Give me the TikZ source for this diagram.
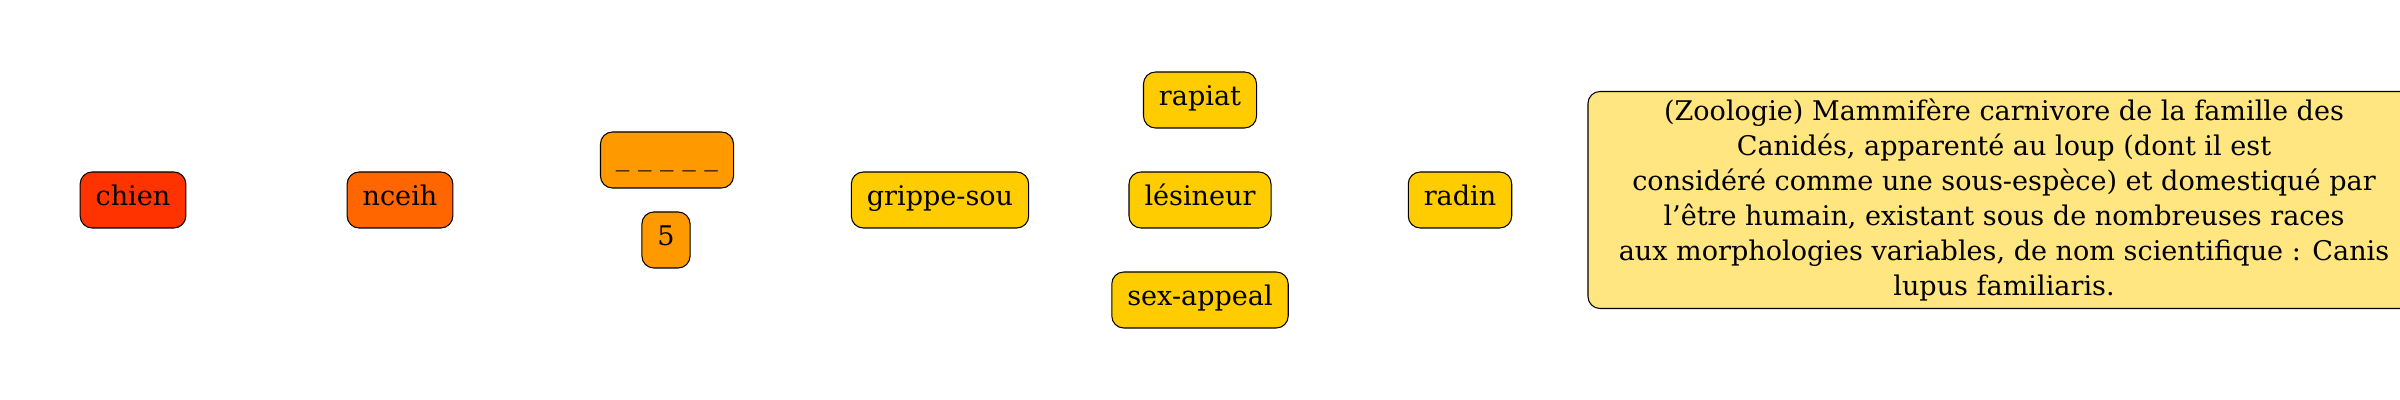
\documentclass[tikz,border=0pt]{standalone}
\usepackage{fontspec}
\setmainfont{DejaVu Serif}
\definecolor{wordred}{HTML}{FF3300}
\definecolor{revorange}{HTML}{FF6600}
\definecolor{lenorange}{HTML}{FF9900}
\definecolor{synyellow}{HTML}{FFCC00}
\definecolor{defyellow}{HTML}{FFE680}
\tikzset{
    box/.style={draw=black, line width=0.6pt, rounded corners=0.24cm, inner xsep=0.31cm, font=\fontsize{15.4}{19.9}\selectfont},
    word/.style={box, minimum height=1.12cm, text height=0.75em, text depth=0.15em}
}
\begin{document}
\begin{tikzpicture}
    \useasboundingbox (0,-4) rectangle (48,4);
    % Word
    \node[word, fill=wordred] (Word-1) at (2.66,0) {chien};
    % Reversed word
    \node[word, fill=revorange] (Reverse-1) at (8,0) {nceih};
    % Blanks and length
    \node[word, fill=lenorange] (Blank-1) at (13.34,0.8) {\_ \_ \_ \_ \_};
    \node[word, fill=lenorange] (Length-1) at (13.32,-0.8) {5};
    % Synonyms
    \foreach \name/\i/\x/\y in {grippe-sou/1/18.8/0, rapiat/2/24/2, lésineur/3/24/0, sex-appeal/4/24/-2, radin/5/29.2/0} {
        \node[word, fill=synyellow] (Synonym-\i) at (\x,\y) {\name};
    }
    % Definition
    \node[box, fill=defyellow, align=center, minimum width=16.64cm, minimum height=4.34cm] (Definition-1) at (40.08,0) {(Zoologie) Mammifère carnivore de la famille des\\
    Canidés, apparenté au loup (dont il est\\
    considéré comme une sous-espèce) et domestiqué par\\
    l’être humain, existant sous de nombreuses races\\
    aux morphologies variables, de nom scientifique : Canis\\
    lupus familiaris.};
\end{tikzpicture}
\end{document}
